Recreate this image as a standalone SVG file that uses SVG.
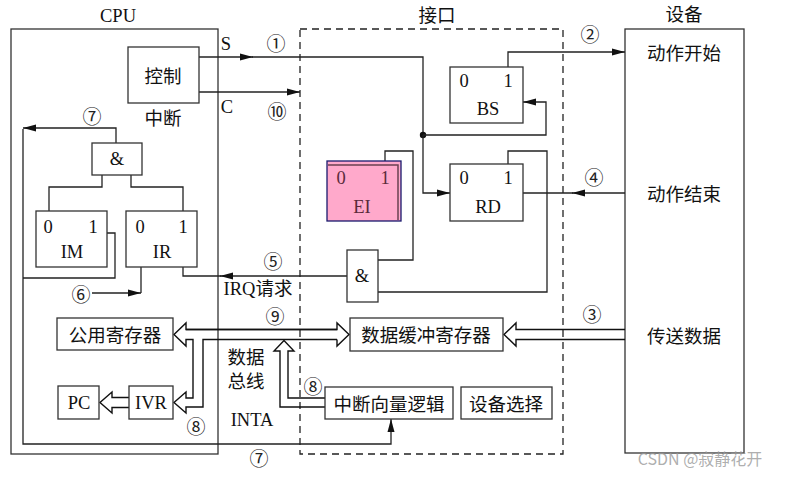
<svg xmlns="http://www.w3.org/2000/svg" width="790" height="477" viewBox="0 0 790 477">
<style>
.box{fill:#fff;stroke:#333;stroke-width:1.3}
.ln{fill:none;stroke:#222;stroke-width:1.3}
.bus{fill:none;stroke:#111;stroke-width:1.4;stroke-linejoin:miter}
.dash{fill:none;stroke:#222;stroke-width:1.3;stroke-dasharray:7,5}
.t{font-family:"Liberation Serif",serif;font-size:18.5px;fill:#111;text-anchor:middle;dominant-baseline:central}
.c{font-family:"Noto Sans CJK SC",sans-serif;font-size:18.5px;fill:#111;text-anchor:middle;dominant-baseline:central}
.n{font-family:"Noto Sans CJK SC","Noto Sans CJK JP",sans-serif;font-size:19px;fill:#222;text-anchor:middle;dominant-baseline:central}
</style>
<defs>
<marker id="ah" markerUnits="userSpaceOnUse" markerWidth="14" markerHeight="10" refX="13" refY="4" orient="auto">
<path d="M0,0.5 L13,4 L0,7.5 z" fill="#111"/>
</marker>
</defs>
<rect width="790" height="477" fill="#fff"/>

<!-- containers -->
<g id="cpu">
<rect x="11" y="29" width="207" height="425" class="box" style="fill:none"/>
<text x="118" y="16" class="t">CPU</text>
</g>
<g id="interface">
<rect x="300" y="29" width="263" height="425" class="dash"/>
<text x="437" y="14" class="c">接口</text>
</g>
<g id="device">
<rect x="625" y="29" width="119" height="424" class="box" style="fill:none"/>
<text x="684" y="13" class="c">设备</text>
<text x="684" y="52" class="c">动作开始</text>
<text x="684" y="193" class="c">动作结束</text>
<text x="684" y="335" class="c">传送数据</text>
</g>

<!-- connectors -->
<g id="connectors">
<line x1="199" y1="57" x2="253" y2="57" class="ln" marker-end="url(#ah)"/>
<polyline points="252,57 423,57 423,135" class="ln"/>
<circle cx="423" cy="135" r="3.2" fill="#111"/>
<line x1="199" y1="92" x2="300" y2="92" class="ln" marker-end="url(#ah)"/>
<polyline points="423,135 546,135 546,102 523,102" class="ln" marker-end="url(#ah)"/>
<polyline points="423,135 423,193 450,193" class="ln" marker-end="url(#ah)"/>
<polyline points="508,67 508,52 625,52" class="ln" marker-end="url(#ah)"/>
<line x1="625" y1="193" x2="572" y2="193" class="ln" marker-end="url(#ah)"/>
<line x1="573" y1="193" x2="523" y2="193" class="ln"/>
<polyline points="385,161 385,151 413,151 413,260 378,260" class="ln"/>
<polyline points="508,164 508,151 547,151 547,292 378,292" class="ln"/>
<line x1="347" y1="276" x2="220" y2="276" class="ln" marker-end="url(#ah)"/>
<polyline points="221,276 183,276 183,267" class="ln"/>
<line x1="92" y1="293" x2="141" y2="293" class="ln" marker-end="url(#ah)"/>
<line x1="141" y1="293" x2="141" y2="267" class="ln"/>
<polyline points="102,175 102,187 49,187 49,211" class="ln"/>
<polyline points="131,175 131,187 183,187 183,211" class="ln"/>
<polyline points="107,233 115,233 115,278 23,278" class="ln"/>
<polyline points="116,143 116,128 23,128" class="ln" marker-end="url(#ah)"/>
<polyline points="23,129 23,444 391,444 391,419" class="ln" marker-end="url(#ah)"/>

<polyline points="337,329.5 186,329.5 186,323 174,334.5 186,346 186,339.5 193,339.5 193,398 186,398 186,392 174,402.5 186,413 186,407 203,407 203,339.5 337,339.5" class="bus"/>
<polyline points="186,329.5 337,329.5 337,323 349,334.5 337,346 337,339.5" class="bus"/>
<polyline points="325,407 280,407 280,351 274,351 284,340.5 294,351 288,351 288,398 325,398" class="bus"/>
<polyline points="625,329.5 516,329.5 516,323 504,334.5 516,346 516,339.5 625,339.5" class="bus"/>
<polyline points="129,397.5 112,397.5 112,392 100,402.5 112,413 112,407.5 129,407.5" class="bus"/>
</g>

<!-- nodes -->
<g id="ctrl">
<rect x="128" y="47" width="71" height="56" class="box"/>
<text x="163" y="75" class="c">控制</text>
<text x="163" y="117" class="c">中断</text>
</g>
<g id="and-cpu">
<rect x="92" y="143" width="50" height="32" class="box"/>
<text x="117" y="159" class="t">&amp;</text>
</g>
<g id="im">
<rect x="36" y="211" width="71" height="56" class="box"/>
<text x="48" y="227" class="t">0</text>
<text x="93" y="227" class="t">1</text>
<text x="72" y="252" class="t">IM</text>
</g>
<g id="ir">
<rect x="126" y="211" width="71" height="56" class="box"/>
<text x="140" y="227" class="t">0</text>
<text x="183" y="227" class="t">1</text>
<text x="162" y="252" class="t">IR</text>
</g>
<g id="bs">
<rect x="450" y="67" width="73" height="56" class="box"/>
<text x="464" y="81" class="t">0</text>
<text x="508" y="81" class="t">1</text>
<text x="488" y="109" class="t">BS</text>
</g>
<g id="rd">
<rect x="450" y="164" width="73" height="57" class="box"/>
<text x="464" y="178" class="t">0</text>
<text x="508" y="178" class="t">1</text>
<text x="488" y="207" class="t">RD</text>
</g>
<g id="ei">
<rect x="327" y="161" width="74" height="60" fill="#ffa9cb" stroke="#1a1a6e" stroke-width="1.3"/>
<polyline points="328,165 398,165 398,220" fill="none" stroke="#6a4050" stroke-width="1.5"/>
<text x="341" y="178" class="t" style="fill:#5a2a3a">0</text>
<text x="385" y="178" class="t" style="fill:#5a2a3a">1</text>
<text x="362" y="207" class="t" style="fill:#5a2a3a">EI</text>
</g>
<g id="and-if">
<rect x="347" y="250" width="31" height="52" class="box"/>
<text x="362" y="276" class="t">&amp;</text>
</g>
<g id="gpr">
<rect x="57" y="318" width="116" height="32" class="box"/>
<text x="115" y="334" class="c">公用寄存器</text>
</g>
<g id="pc">
<rect x="58" y="386" width="41" height="33" class="box"/>
<text x="79" y="403" class="t">PC</text>
</g>
<g id="ivr">
<rect x="129" y="386" width="44" height="33" class="box"/>
<text x="151" y="403" class="t">IVR</text>
</g>
<g id="dbr">
<rect x="350" y="318" width="153" height="33" class="box"/>
<text x="426" y="334" class="c">数据缓冲寄存器</text>
</g>
<g id="ivl">
<rect x="325" y="387" width="128" height="32" class="box"/>
<text x="389" y="403" class="c">中断向量逻辑</text>
</g>
<g id="devsel">
<rect x="461" y="387" width="91" height="32" class="box"/>
<text x="506" y="403" class="c">设备选择</text>
</g>

<!-- labels -->
<g id="labels">
<text x="226" y="44" class="t">S</text>
<text x="227" y="107" class="t">C</text>
<text x="276" y="42" class="n">①</text>
<text x="277" y="110" class="n">⑩</text>
<text x="590" y="33" class="n">②</text>
<text x="594" y="176" class="n">④</text>
<text x="592" y="313" class="n">③</text>
<text x="92" y="115" class="n">⑦</text>
<text x="273" y="260" class="n">⑤</text>
<text x="81" y="293" class="n">⑥</text>
<text x="258" y="289" class="c" style="font-family:'Liberation Serif','Noto Sans CJK SC',serif">IRQ请求</text>
<text x="275" y="315" class="n">⑨</text>
<text x="246" y="356" class="c">数据</text>
<text x="246" y="380" class="c">总线</text>
<text x="252" y="420" class="t">INTA</text>
<text x="196" y="425" class="n">⑧</text>
<text x="313" y="385" class="n">⑧</text>
<text x="259" y="457" class="n">⑦</text>
<text x="700" y="458" class="c" style="font-size:16px;fill:#999;fill-opacity:0.8">CSDN @寂静花开</text>
</g>
</svg>
